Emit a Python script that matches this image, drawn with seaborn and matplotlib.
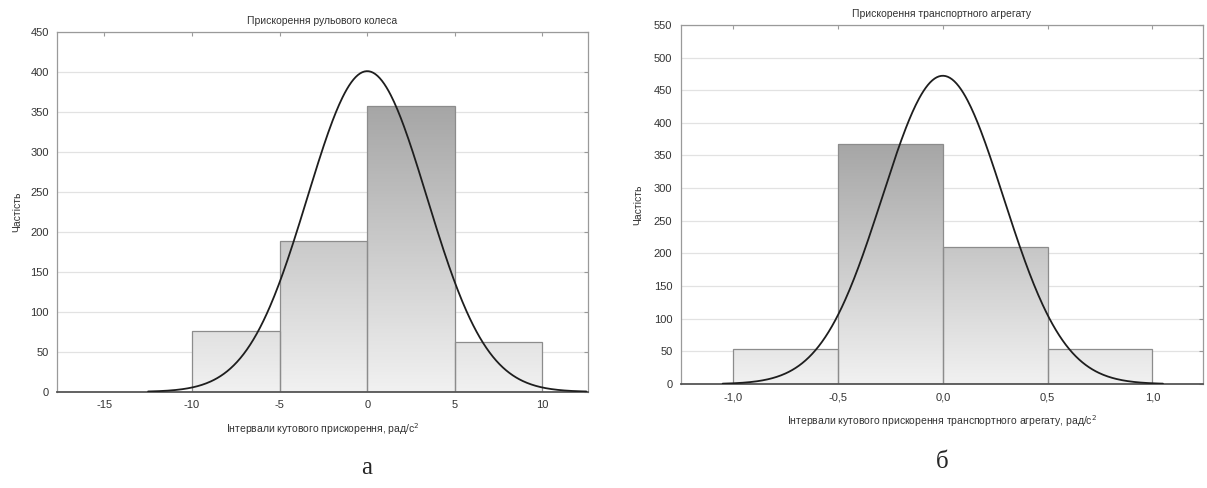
import numpy as np
import pandas as pd
import matplotlib
matplotlib.use('Agg')
import matplotlib.pyplot as plt
from matplotlib.colors import LinearSegmentedColormap
import seaborn as sns

sns.set_style('white')
plt.rcParams['font.family'] = ['Liberation Sans', 'DejaVu Sans']

# дані: межі інтервалів і частоти
edges_a = [-10, -5, 0, 5, 10]
counts_a = [76, 189, 358, 63]
mu_a, sd_a = 0.0, 3.41      # параметри нормальної кривої
curve_a = (-12.5, 12.5)
xticks_a = [-15, -10, -5, 0, 5, 10]
xticklabels_a = ['-15', '-10', '-5', '0', '5', '10']
yticks_a = list(range(0, 451, 50))

edges_b = [-1.0, -0.5, 0.0, 0.5, 1.0]
counts_b = [53, 368, 210, 53]
mu_b, sd_b = 0.0, 0.289
curve_b = (-1.05, 1.05)
xticks_b = [-1.0, -0.5, 0.0, 0.5, 1.0]
xticklabels_b = ['-1,0', '-0,5', '0,0', '0,5', '1,0']
yticks_b = list(range(0, 551, 50))

grad = LinearSegmentedColormap.from_list('g', ['#f1f1f1', '#a6a6a6'])


def panel(ax, edges, counts, mu, sd, crange, xlim, xticks, xlabels, yticks, title, xlabel, ylx):
    centers = [(edges[i] + edges[i + 1]) / 2 for i in range(len(counts))]
    df = pd.DataFrame({'x': centers, 'n': counts})
    sns.histplot(data=df, x='x', weights='n', bins=edges, ax=ax,
                 color='none', edgecolor='#8c8c8c', linewidth=0.9, alpha=1)
    top = max(counts)
    for p in ax.patches:
        x0, h, w = p.get_x(), p.get_height(), p.get_width()
        g = np.linspace(0, h / top, 100).reshape(-1, 1)
        im = ax.imshow(g, cmap=grad, vmin=0, vmax=1, origin='lower', aspect='auto',
                       extent=[x0, x0 + w, 0, h], zorder=1.5)
        im.set_clip_path(p)
        p.set_zorder(2)

    # нормальна крива
    bw = edges[1] - edges[0]
    n = sum(counts)
    xs = np.linspace(crange[0], crange[1], 400)
    ys = n * bw / (sd * np.sqrt(2 * np.pi)) * np.exp(-0.5 * ((xs - mu) / sd) ** 2)
    sns.lineplot(x=xs, y=ys, ax=ax, color='#1e1e1e', linewidth=1.3, zorder=3)

    ax.set_xlim(*xlim)
    ax.set_ylim(0, yticks[-1])
    ax.set_xticks(xticks)
    ax.set_xticklabels(xlabels)
    ax.set_yticks(yticks)
    ax.yaxis.grid(True, color='#e2e2e2', linewidth=0.9)
    ax.set_axisbelow(True)
    ax.tick_params(direction='in', length=3, color='#999999', labelsize=8,
                   labelcolor='#333333', top=True, right=True, pad=6)
    for s in ax.spines.values():
        s.set_color('#9a9a9a')
        s.set_linewidth(0.9)
    ax.spines['bottom'].set_color('#555555')
    ax.spines['bottom'].set_linewidth(1.3)
    ax.set_title(title, fontsize=7.5, color='#333333', pad=6)
    ax.set_xlabel(xlabel, fontsize=7.5, color='#333333', labelpad=8)
    ax.set_ylabel('Частість', fontsize=7.5, color='#333333')
    ax.yaxis.set_label_coords(ylx, 0.5)


fig = plt.figure(figsize=(12.07, 4.88), dpi=100)
ax1 = fig.add_axes([0.0472, 0.197, 0.440, 0.737])
ax2 = fig.add_axes([0.564, 0.213, 0.4325, 0.736])

panel(ax1, edges_a, counts_a, mu_a, sd_a, curve_a, (-17.7, 12.6), xticks_a, xticklabels_a,
      yticks_a, 'Прискорення рульового колеса',
      'Інтервали кутового прискорення, рад/с$^{2}$', -0.066)
panel(ax2, edges_b, counts_b, mu_b, sd_b, curve_b, (-1.25, 1.24), xticks_b, xticklabels_b,
      yticks_b, 'Прискорення транспортного агрегату',
      'Інтервали кутового прискорення транспортного агрегату, рад/с$^{2}$', -0.071)

fig.text(0.304, 0.041, 'а', fontsize=18, family='Liberation Serif', ha='center', va='center')
fig.text(0.781, 0.053, 'б', fontsize=18, family='Liberation Serif', ha='center', va='center')

fig.savefig('out.png', dpi=100)
